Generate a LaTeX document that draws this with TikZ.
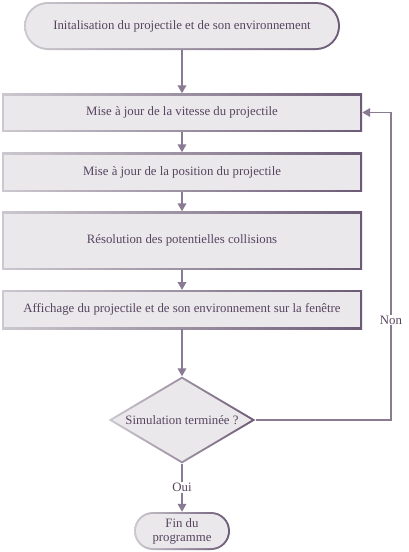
\documentclass[tikz,border=0pt]{standalone}
\usepackage{fontspec}
\setmainfont{Liberation Serif}
\usetikzlibrary{shapes.geometric,shapes.misc,arrows.meta}
\definecolor{bordlight}{HTML}{CCC8CF}
\definecolor{borddark}{HTML}{6C5A76}
\definecolor{boxfill}{HTML}{EBE8EC}
\definecolor{arrcol}{HTML}{8A7B93}
\definecolor{txt}{HTML}{56445F}
\tikzset{
  outer/.style={left color=bordlight, right color=borddark, draw=none, inner sep=0pt},
  inner/.style={fill=boxfill, draw=none, inner sep=0pt, text=txt, font=\fontsize{12.8}{14.5}\selectfont, align=center},
  arr/.style={draw=arrcol, line width=1.9pt, -{Triangle[length=8pt,width=8.5pt]}},
  lbl/.style={fill=white, text=txt, inner sep=1pt, font=\fontsize{12.8}{14.5}\selectfont}
}
\begin{document}
\begin{tikzpicture}[x=1pt,y=-1pt]
\useasboundingbox (0,0) rectangle (408,552);
% start
\node[outer, rounded rectangle, minimum width=316pt, minimum height=48pt] (init) at (182,26) {};
\node[inner, rounded rectangle, minimum width=312pt, minimum height=44pt] (initin) at (init) {Initalisation du projectile et de son environnement};
% boxes
\node[outer, rectangle, minimum width=360pt, minimum height=38pt] (b1) at (182,112.5) {};
\node[inner, rectangle, minimum width=356pt, minimum height=34pt] (b1in) at (b1) {Mise à jour de la vitesse du projectile};
\node[outer, rectangle, minimum width=360pt, minimum height=39pt] (b2) at (182,172) {};
\node[inner, rectangle, minimum width=356pt, minimum height=35pt] (b2in) at (b2) {Mise à jour de la position du projectile};
\node[outer, rectangle, minimum width=360pt, minimum height=58pt] (b3) at (182,240.5) {};
\node[inner, rectangle, minimum width=356pt, minimum height=54pt] (b3in) at (b3) {Résolution des potentielles collisions};
\node[outer, rectangle, minimum width=360pt, minimum height=39pt] (b4) at (182,309.7) {};
\node[inner, rectangle, minimum width=356pt, minimum height=35pt] (b4in) at (b4) {Affichage du projectile et de son environnement sur la fenêtre};
% decision
\node[outer, diamond, minimum width=147pt, minimum height=87pt] (dec) at (182,420) {};
\node[inner, diamond, minimum width=139pt, minimum height=82.4pt] (decin) at (dec) {};
\node[inner, fill=none] (dect) at (dec) {Simulation terminée ?};
% end
\node[outer, rounded rectangle, minimum width=96pt, minimum height=38pt] (fin) at (182,531) {};
\node[inner, rounded rectangle, minimum width=92pt, minimum height=34pt] (finin) at (fin) {};
\node[inner, fill=none, font=\fontsize{12.8}{14}\selectfont] (fint) at (fin) {Fin du\\programme};
% arrows
\draw[arr] (init.south) -- (b1.north);
\draw[arr] (b1.south) -- (b2.north);
\draw[arr] (b2.south) -- (b3.north);
\draw[arr] (b3.south) -- (b4.north);
\draw[arr] (b4.south) -- (dec.north);
\draw[arr] (dec.south) -- node[lbl, pos=0.5] (oui) {Oui} (fin.north);
\coordinate (lp) at (391,420);
\draw[arr] (dec.east) -- (lp) |- (b1.east);
\node[lbl] (non) at (391,320) {Non};
\end{tikzpicture}
\end{document}
